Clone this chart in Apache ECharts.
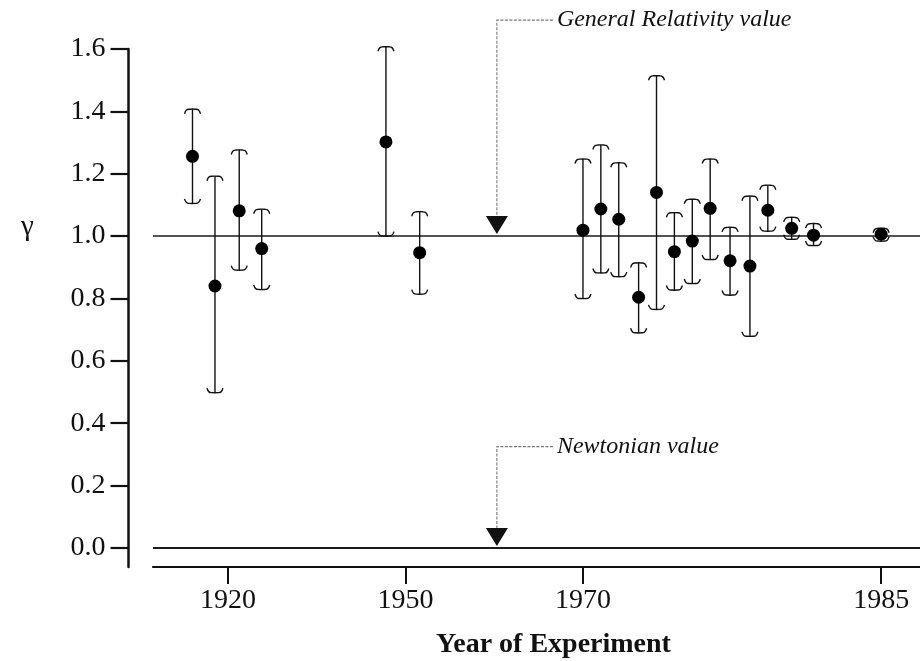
<!DOCTYPE html>
<html>
<head>
<meta charset="utf-8">
<script src="https://cdn.jsdelivr.net/npm/echarts@6/dist/echarts.min.js"></script>
<style>
html,body{margin:0;padding:0;background:#fff;}
#c{width:920px;height:661px;}
</style>
</head>
<body>
<div id="c"></div>
<script>
// ---- Data ----
const years = [1914.0, 1917.8, 1921.9, 1925.7, 1946.7, 1951.6, 1970.0, 1970.9, 1971.8, 1972.8, 1973.7, 1974.6, 1975.5, 1976.4, 1977.4, 1978.4, 1979.3, 1980.5, 1981.6, 1985.0];
const gamma = [1.256, 0.84, 1.081, 0.96, 1.302, 0.947, 1.019, 1.087, 1.054, 0.804, 1.14, 0.95, 0.984, 1.089, 0.921, 0.904, 1.083, 1.025, 1.003, 1.006];
const upper = [1.407, 1.192, 1.276, 1.086, 1.607, 1.078, 1.247, 1.292, 1.235, 0.914, 1.514, 1.075, 1.118, 1.247, 1.028, 1.128, 1.163, 1.06, 1.04, 1.025];
const lower = [1.105, 0.498, 0.891, 0.829, 1.0, 0.814, 0.80, 0.882, 0.870, 0.69, 0.765, 0.827, 0.848, 0.925, 0.811, 0.679, 1.016, 0.99, 0.97, 0.984];

const tickYears = [1920, 1950, 1970, 1985];
const yTicks = [0.0, 0.2, 0.4, 0.6, 0.8, 1.0, 1.2, 1.4, 1.6];

const refValues = [1.0, 0.0];                       // GR and Newtonian reference values
const annotYears = [1960.3, 1960.3];
const annotTexts = ['General Relativity value', 'Newtonian value'];
const annotLabelLevels = [1.6925, 0.325];           // gamma level at which the caption sits

// ---- Non-linear year axis scale (the figure's year axis is piecewise) ----
const tickUnits = [0, 1, 2, 3.68];
function yearToUnit(y) {
  let i = 0;
  if (y >= tickYears[tickYears.length - 1]) i = tickYears.length - 2;
  else { while (i < tickYears.length - 2 && y > tickYears[i + 1]) i++; }
  const t = (y - tickYears[i]) / (tickYears[i + 1] - tickYears[i]);
  return tickUnits[i] + t * (tickUnits[i + 1] - tickUnits[i]);
}
function unitToYearLabel(u) {
  let best = 0;
  for (let i = 0; i < tickUnits.length; i++) if (Math.abs(tickUnits[i] - u) < Math.abs(tickUnits[best] - u)) best = i;
  return String(tickYears[best]);
}

const pointData = years.map((y, i) => [yearToUnit(y), gamma[i]]);
const barData = years.map((y, i) => [yearToUnit(y), lower[i], upper[i]]);
const annotData = annotYears.map((y, i) => [yearToUnit(y), refValues[i], annotLabelLevels[i], annotTexts[i]]);

const serif = 'Liberation Serif, Times New Roman, serif';
const ink = '#111';

const chart = echarts.init(document.getElementById('c'), null, {renderer: 'canvas'});
chart.setOption({
  animation: false,
  backgroundColor: '#fff',
  grid: {left: 153, right: 0, top: 49, bottom: 94, containLabel: false, outerBoundsMode: 'none'},
  xAxis: {
    type: 'value',
    min: -0.4225,
    max: 3.899,
    splitLine: {show: false},
    axisLine: {onZero: false, lineStyle: {color: ink, width: 2.2}},
    axisTick: {show: true, length: 17, lineStyle: {color: ink, width: 2}, customValues: tickYears.map(yearToUnit)},
    axisLabel: {
      customValues: tickYears.map(yearToUnit),
      formatter: v => unitToYearLabel(v),
      fontFamily: serif, fontSize: 28, color: ink, margin: 20
    },
    name: 'Year of Experiment',
    nameLocation: 'middle',
    nameGap: 64,
    nameTextStyle: {fontFamily: serif, fontWeight: 'bold', fontSize: 28, color: ink, padding: [0, 0, 0, 34]}
  },
  yAxis: {
    type: 'value',
    min: -0.061,
    max: 1.6,
    offset: 24.5,
    splitLine: {show: false},
    axisLine: {show: true, onZero: false, lineStyle: {color: ink, width: 2.5}},
    axisTick: {show: true, length: 18, lineStyle: {color: ink, width: 2.2}, customValues: yTicks},
    axisLabel: {
      customValues: yTicks,
      formatter: v => v.toFixed(1),
      fontFamily: serif, fontSize: 28, color: ink, margin: 23
    }
  },
  graphic: [{
    type: 'text', left: 21, top: 213,
    style: {text: 'γ', font: '29px ' + serif, fill: ink}
  }],
  series: [
    {
      type: 'custom',
      clip: false,
      z: 2,
      data: barData,
      renderItem: function (params, api) {
        const x = api.value(0);
        const lo = api.coord([x, api.value(1)]);
        const hi = api.coord([x, api.value(2)]);
        const cx = lo[0];
        const w = 8;
        const st = {stroke: ink, lineWidth: 1.4, fill: 'none'};
        return {
          type: 'group',
          children: [
            {type: 'line', shape: {x1: cx, y1: hi[1], x2: cx, y2: lo[1]}, style: st},
            {type: 'polyline', shape: {smooth: 0.4, points: [[cx - w, hi[1] + 4.5], [cx - w + 2, hi[1] + 0.8], [cx - 3, hi[1]], [cx + 3, hi[1]], [cx + w - 2, hi[1] + 0.8], [cx + w, hi[1] + 4.5]]}, style: st},
            {type: 'polyline', shape: {smooth: 0.4, points: [[cx - w, lo[1] - 4.5], [cx - w + 2, lo[1] - 0.8], [cx - 3, lo[1]], [cx + 3, lo[1]], [cx + w - 2, lo[1] - 0.8], [cx + w, lo[1] - 4.5]]}, style: st}
          ]
        };
      }
    },
    {
      type: 'scatter',
      z: 3,
      data: pointData,
      symbol: 'circle',
      symbolSize: 13,
      itemStyle: {color: '#000', opacity: 1},
      markLine: {
        silent: true,
        symbol: ['none', 'none'],
        label: {show: false},
        z: 1,
        data: [
          {yAxis: refValues[0], lineStyle: {color: '#1a1a1a', width: 1.6, type: 'solid', opacity: 1}},
          {yAxis: refValues[1], lineStyle: {color: '#1a1a1a', width: 2.2, type: 'solid', opacity: 1}}
        ]
      }
    },
    {
      type: 'custom',
      clip: false,
      z: 4,
      data: annotData,
      renderItem: function (params, api) {
        const x = api.value(0);
        const tip = api.coord([x, api.value(1)]);
        const lab = api.coord([x, api.value(2)]);
        const cx = tip[0];
        const ty = tip[1] - 2;
        const h = 18, hw = 11;
        const lead = {stroke: '#777', lineWidth: 1.1, lineDash: [3, 1.5], fill: 'none'};
        return {
          type: 'group',
          children: [
            {type: 'polyline', shape: {points: [[cx + 56, lab[1]], [cx, lab[1]], [cx, ty - h]]}, style: lead},
            {type: 'polygon', shape: {points: [[cx - hw, ty - h], [cx + hw, ty - h], [cx, ty]]}, style: {fill: '#111'}},
            {type: 'text', x: cx + 60, y: lab[1], style: {text: api.value(3), font: 'italic 24px ' + serif, fill: ink, verticalAlign: 'middle', align: 'left'}}
          ]
        };
      }
    }
  ]
});
</script>
</body>
</html>
